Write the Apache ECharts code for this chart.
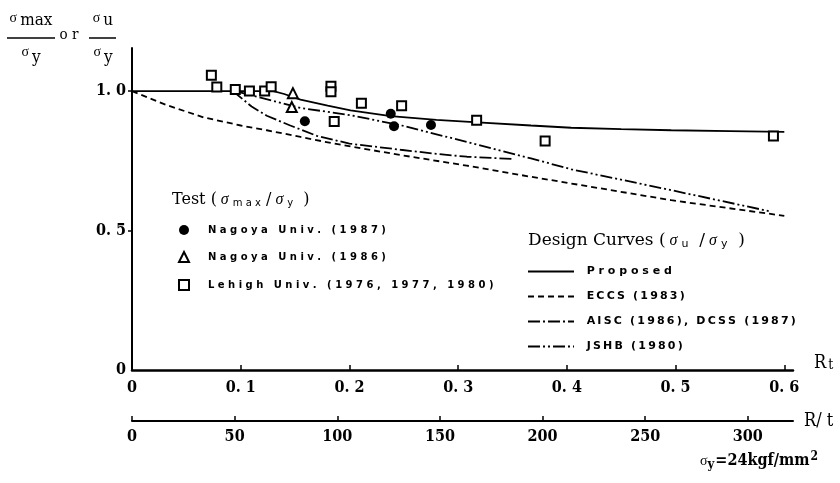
<!DOCTYPE html>
<html>
<head>
<meta charset="utf-8">
<script src="https://cdn.jsdelivr.net/npm/echarts@6/dist/echarts.min.js"></script>
<style>
  html, body { margin: 0; padding: 0; background: #fff; }
  #main { width: 840px; height: 483px; }
</style>
</head>
<body>
<div id="main"></div>
<script>
// test results, [R_t, sigma_max / sigma_y]
var nagoya1987 = [[0.159, 0.892], [0.238, 0.919], [0.241, 0.874], [0.275, 0.879]];
var nagoya1986 = [[0.148, 0.993], [0.147, 0.943]];
var lehigh = [[0.073, 1.057], [0.078, 1.015], [0.095, 1.006], [0.108, 1.001], [0.122, 1.001],
  [0.128, 1.016], [0.183, 1.018], [0.183, 0.998], [0.186, 0.891], [0.211, 0.957],
  [0.248, 0.948], [0.317, 0.896], [0.380, 0.821], [0.590, 0.839]];

// design curves, [R_t, sigma_u / sigma_y]
var proposed = [[0, 1.0], [0.13, 1.0], [0.14, 0.99], [0.155, 0.970], [0.18, 0.948], [0.201, 0.931],
  [0.238, 0.911], [0.28, 0.897], [0.318, 0.888], [0.367, 0.877], [0.404, 0.869], [0.45, 0.864],
  [0.496, 0.860], [0.55, 0.857], [0.6, 0.854]];
var eccs = [[0, 1.0], [0.032, 0.950], [0.066, 0.906], [0.1, 0.877], [0.124, 0.860], [0.155, 0.836],
  [0.186, 0.812], [0.247, 0.771], [0.308, 0.733], [0.367, 0.693], [0.404, 0.669], [0.496, 0.609],
  [0.6, 0.553]];
var aisc = [[0.093, 1.0], [0.11, 0.945], [0.124, 0.912], [0.145, 0.878], [0.17, 0.840], [0.2, 0.812],
  [0.247, 0.790], [0.278, 0.776], [0.308, 0.765], [0.35, 0.757]];
var jshb = [[0.095, 1.0], [0.12, 0.975], [0.155, 0.940], [0.201, 0.914], [0.247, 0.878], [0.308, 0.818],
  [0.367, 0.759], [0.404, 0.720], [0.496, 0.645], [0.588, 0.568]];

// ticks
var rtTicks = [0, 0.1, 0.2, 0.3, 0.4, 0.5, 0.6];
var rOverTTicks = [0, 50, 100, 150, 200, 250, 300];
var yTicks = [0, 0.5, 1.0];

var chart = echarts.init(document.getElementById('main'), null, { renderer: 'canvas' });

var numFont = "'DejaVu Serif Condensed', 'Liberation Serif', serif";
var legFont = "'DejaVu Sans', sans-serif";
var headFont = "'DejaVu Serif', serif";

function spaced(s, sep) {
  return s.split('').join(sep);
}
function fmtNum(v) {
  if (v === 0) return '0';
  return v.toFixed(1).replace('.', '. ');
}

var option = {
  backgroundColor: '#ffffff',
  animation: false,
  grid: { left: 132, right: 47, top: 48, bottom: 113 },
  xAxis: [
    {
      type: 'value',
      min: 0,
      max: 0.608,
      splitLine: { show: false },
      axisLine: { lineStyle: { color: '#000', width: 2.5 } },
      axisTick: { inside: true, length: 5, customValues: rtTicks.slice(1), lineStyle: { color: '#000', width: 1.5 } },
      axisLabel: {
        customValues: rtTicks, margin: 10, color: '#000',
        fontFamily: numFont, fontWeight: 'bold', fontSize: 16,
        formatter: fmtNum
      },
      name: '{r|R}{t|t}',
      nameLocation: 'end',
      nameGap: 21,
      nameTextStyle: {
        padding: [0, 0, 26, 0],
        rich: {
          r: { fontFamily: numFont, fontSize: 18, color: '#000', verticalAlign: 'bottom' },
          t: { fontFamily: numFont, fontSize: 14, color: '#000', verticalAlign: 'bottom', padding: [16, 0, 0, 2] }
        }
      }
    },
    {
      type: 'value',
      position: 'bottom',
      offset: 51,
      min: 0,
      max: 322,
      splitLine: { show: false },
      axisLine: { lineStyle: { color: '#000', width: 2 } },
      axisTick: { inside: true, length: 5, customValues: rOverTTicks, lineStyle: { color: '#000', width: 1.5 } },
      axisLabel: {
        customValues: rOverTTicks, margin: 8, color: '#000',
        fontFamily: numFont, fontWeight: 'bold', fontSize: 16
      },
      name: 'R/ t',
      nameLocation: 'end',
      nameGap: 11,
      nameTextStyle: {
        fontFamily: numFont, fontSize: 18, color: '#000',
        padding: [0, 0, 28, 0]
      }
    }
  ],
  yAxis: {
    type: 'value',
    min: 0,
    max: 1.155,
    splitLine: { show: false },
    axisLine: { lineStyle: { color: '#000', width: 2 } },
    axisTick: { length: 4, customValues: [0.5, 1.0], lineStyle: { color: '#000', width: 1.5 } },
    axisLabel: {
      customValues: yTicks, margin: 6, color: '#000',
      fontFamily: numFont, fontWeight: 'bold', fontSize: 16,
      formatter: fmtNum
    }
  },
  legend: [
    {
      orient: 'vertical',
      left: 173,
      top: 220,
      itemWidth: 10,
      itemHeight: 10,
      itemGap: 16,
      textStyle: { fontFamily: legFont, fontWeight: 'bold', fontSize: 10, color: '#000' },
      formatter: function (name) { return '    ' + spaced(name, ' '); },
      data: [
        { name: 'Nagoya Univ. (1987)', icon: 'circle', itemStyle: { color: '#000', borderWidth: 0, opacity: 1 } },
        { name: 'Nagoya Univ. (1986)', icon: 'triangle', itemStyle: { color: '#fff', borderColor: '#000', borderWidth: 2, opacity: 1 } },
        { name: 'Lehigh Univ. (1976, 1977, 1980)', icon: 'rect', itemStyle: { color: '#fff', borderColor: '#000', borderWidth: 2, opacity: 1 } }
      ]
    },
    {
      orient: 'vertical',
      left: 522,
      top: 261,
      itemWidth: 46,
      itemHeight: 10,
      itemGap: 14,
      itemStyle: { color: 'rgba(0,0,0,0)', borderWidth: 0, opacity: 0 },
      textStyle: { fontFamily: legFont, fontWeight: 'bold', fontSize: 11, color: '#000' },
      formatter: function (name) {
        return name === 'Proposed' ? '  ' + spaced(name, ' ') : '  ' + spaced(name, '\u2009');
      },
      data: ['Proposed', 'ECCS (1983)', 'AISC (1986), DCSS (1987)', 'JSHB (1980)']
    }
  ],
  graphic: [
    // y-axis title: sigma_max / sigma_y or sigma_u / sigma_y
    { type: 'text', x: 31, y: 21, style: { text: '{s|σ}{m|max}', align: 'center', verticalAlign: 'middle',
      rich: { s: { font: '14px serif', fill: '#000', padding: [0, 3, 6, 0] }, m: { font: '17px ' + numFont, fill: '#000' } } } },
    { type: 'line', shape: { x1: 7, y1: 38, x2: 55, y2: 38 }, style: { stroke: '#000', lineWidth: 1.5 } },
    { type: 'text', x: 31, y: 55, style: { text: '{s|σ}{m|y}', align: 'center', verticalAlign: 'middle',
      rich: { s: { font: '14px serif', fill: '#000', padding: [0, 3, 6, 0] }, m: { font: '17px ' + numFont, fill: '#000', padding: [6, 0, 0, 0] } } } },
    { type: 'text', x: 69, y: 35, style: { text: 'o r', align: 'center', verticalAlign: 'middle', font: '15px ' + numFont, fill: '#000' } },
    { type: 'text', x: 103, y: 21, style: { text: '{s|σ}{m|u}', align: 'center', verticalAlign: 'middle',
      rich: { s: { font: '14px serif', fill: '#000', padding: [0, 3, 6, 0] }, m: { font: '17px ' + numFont, fill: '#000' } } } },
    { type: 'line', shape: { x1: 89, y1: 38, x2: 116, y2: 38 }, style: { stroke: '#000', lineWidth: 1.5 } },
    { type: 'text', x: 103, y: 55, style: { text: '{s|σ}{m|y}', align: 'center', verticalAlign: 'middle',
      rich: { s: { font: '14px serif', fill: '#000', padding: [0, 3, 6, 0] }, m: { font: '17px ' + numFont, fill: '#000', padding: [6, 0, 0, 0] } } } },

    // legend headings
    { type: 'text', x: 172, y: 200, style: { text: '{a|Test (}{s| σ }{m|m a x}{a| /}{s| σ }{m|y}{a|  )}', verticalAlign: 'middle',
      rich: {
        a: { font: '16px ' + headFont, fill: '#000' },
        s: { font: 'italic 16px "Liberation Serif", serif', fill: '#000' },
        m: { font: '10px "DejaVu Sans", sans-serif', fill: '#000', padding: [6, 0, 0, 0] }
      } } },
    { type: 'text', x: 528, y: 241, style: { text: '{a|Design Curves (}{s| σ }{m|u}{a|  /}{s| σ }{m|y}{a|  )}', verticalAlign: 'middle',
      rich: {
        a: { font: '17px ' + headFont, fill: '#000' },
        s: { font: 'italic 16px "Liberation Serif", serif', fill: '#000' },
        m: { font: '11px "DejaVu Sans", sans-serif', fill: '#000', padding: [6, 0, 0, 0] }
      } } },

    // yield stress note
    { type: 'text', x: 700, y: 461, style: { text: '{s|σ}{y|y}{a|=24kgf/mm}{p|2}', verticalAlign: 'middle',
      rich: {
        s: { font: '14px serif', fill: '#000' },
        y: { font: 'bold 13px ' + numFont, fill: '#000', padding: [8, 1, 0, 0] },
        a: { font: 'bold 16px ' + numFont, fill: '#000' },
        p: { font: 'bold 12px ' + numFont, fill: '#000', padding: [0, 0, 8, 1] }
      } } }
  ],
  series: [
    {
      name: 'Proposed', type: 'line', data: proposed, symbol: 'none', z: 3, color: '#000',
      lineStyle: { color: '#000', width: 1.8, type: 'solid' }
    },
    {
      name: 'ECCS (1983)', type: 'line', data: eccs, symbol: 'none', z: 3, color: '#000',
      lineStyle: { color: '#000', width: 1.8, type: [6, 4] }
    },
    {
      name: 'AISC (1986), DCSS (1987)', type: 'line', data: aisc, symbol: 'none', z: 3, color: '#000',
      lineStyle: { color: '#000', width: 1.8, type: [12, 3, 2, 3] }
    },
    {
      name: 'JSHB (1980)', type: 'line', data: jshb, symbol: 'none', z: 3, color: '#000',
      lineStyle: { color: '#000', width: 1.8, type: [12, 3, 2, 3, 2, 3] }
    },
    {
      name: 'Nagoya Univ. (1987)', type: 'scatter', data: nagoya1987, symbol: 'circle', symbolSize: 10, z: 4,
      itemStyle: { color: '#000', opacity: 1 }
    },
    {
      name: 'Nagoya Univ. (1986)', type: 'scatter', data: nagoya1986, symbol: 'triangle', symbolSize: 10, z: 4,
      itemStyle: { color: '#fff', borderColor: '#000', borderWidth: 2, opacity: 1 }
    },
    {
      name: 'Lehigh Univ. (1976, 1977, 1980)', type: 'scatter', data: lehigh, symbol: 'rect', symbolSize: 9, z: 4,
      itemStyle: { color: '#fff', borderColor: '#000', borderWidth: 2, opacity: 1 }
    }
  ]
};

chart.setOption(option);
</script>
</body>
</html>
